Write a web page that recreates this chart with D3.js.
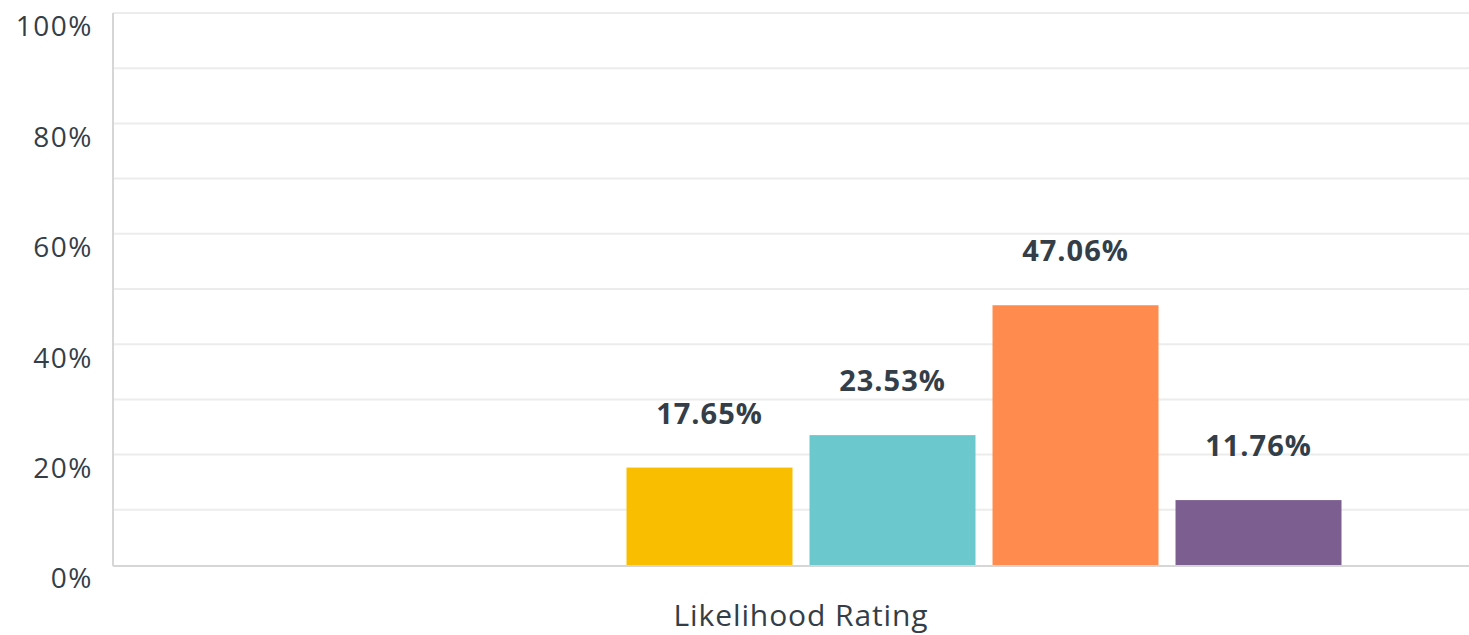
<!DOCTYPE html>
<html>
<head>
<meta charset="utf-8">
<script src="https://cdn.jsdelivr.net/npm/d3@7"></script>
<style>
  html, body { margin: 0; padding: 0; background: #fff; }
  svg { display: block; font-family: "Open Sans", "Noto Sans", sans-serif; }
</style>
</head>
<body>
<svg id="chart" width="1469" height="635"></svg>
<script>
const categories = ["Likelihood Rating"];
const seriesNames = ["Option 1", "Option 2", "Option 3", "Option 4", "Option 5", "Option 6"];
const seriesValues = [0, 0, 17.65, 23.53, 47.06, 11.76];
const seriesColors = ["#F9BE00", "#6BC8CD", "#F9BE00", "#6BC8CD", "#FF8B4F", "#7D5E90"];
const gridTicks = [0, 10, 20, 30, 40, 50, 60, 70, 80, 90, 100];
const labelTicks = [0, 20, 40, 60, 80, 100];

const svg = d3.select("#chart");
const mLeft = 113, mRight = 1489, mTop = 13, mBottom = 565;
const textColor = "#333e48";

const y = d3.scaleLinear().domain([0, 100]).range([mBottom, mTop]);
const x0 = d3.scaleBand().domain(categories).range([mLeft, mRight]).padding(0);
const x1 = d3.scaleBand().domain(seriesNames).range([0, x0.bandwidth()])
  .paddingInner(0.093).paddingOuter(0.806);

// gridlines
svg.append("g").selectAll("line").data(gridTicks.filter(d => d > 0)).join("line")
  .attr("x1", mLeft).attr("x2", mRight)
  .attr("y1", d => y(d)).attr("y2", d => y(d))
  .attr("stroke", "#ececec").attr("stroke-width", 2);

// y-axis labels
const yAxis = d3.axisLeft(y).tickValues(labelTicks).tickFormat(d => d + "%").tickSize(0).tickPadding(0);
const gy = svg.append("g").attr("transform", `translate(93,14)`).call(yAxis);
gy.select(".domain").remove();
gy.selectAll("text").attr("font-size", 28).attr("fill", textColor)
  .attr("letter-spacing", "1.5px")
  .attr("font-family", "'Open Sans', sans-serif");

// bars
const data = seriesNames.map((s, i) => ({ key: s, value: seriesValues[i], color: seriesColors[i] }));
const g = svg.append("g").attr("transform", `translate(${x0(categories[0])},0)`);
g.selectAll("rect").data(data.filter(d => d.value > 0)).join("rect")
  .attr("x", d => x1(d.key))
  .attr("width", x1.bandwidth())
  .attr("y", d => y(d.value))
  .attr("height", d => y(0) - y(d.value))
  .attr("fill", d => d.color);

g.selectAll("text.val").data(data.filter(d => d.value > 0)).join("text")
  .attr("class", "val")
  .attr("x", d => x1(d.key) + x1.bandwidth() / 2)
  .attr("y", d => y(d.value) - 44)
  .attr("text-anchor", "middle")
  .attr("font-size", 29).attr("font-weight", 700)
  .attr("letter-spacing", "1px")
  .attr("fill", textColor)
  .text(d => d.value.toFixed(2) + "%");

// axis lines
svg.append("line").attr("x1", mLeft).attr("x2", mLeft).attr("y1", mTop).attr("y2", mBottom + 1)
  .attr("stroke", "#d6d6d6").attr("stroke-width", 2);
svg.append("line").attr("x1", mLeft).attr("x2", mRight).attr("y1", mBottom + 1).attr("y2", mBottom + 1)
  .attr("stroke", "#d6d6d6").attr("stroke-width", 2);

// x-axis category label
const xAxis = d3.axisBottom(x0).tickSize(0).tickPadding(0);
const gx = svg.append("g").attr("transform", `translate(0,${mBottom + 61})`).call(xAxis);
gx.select(".domain").remove();
gx.selectAll("text").attr("font-size", 30).attr("fill", textColor)
  .attr("letter-spacing", "0.9px")
  .attr("font-family", "'Open Sans', sans-serif").attr("dy", "0");
</script>
</body>
</html>
